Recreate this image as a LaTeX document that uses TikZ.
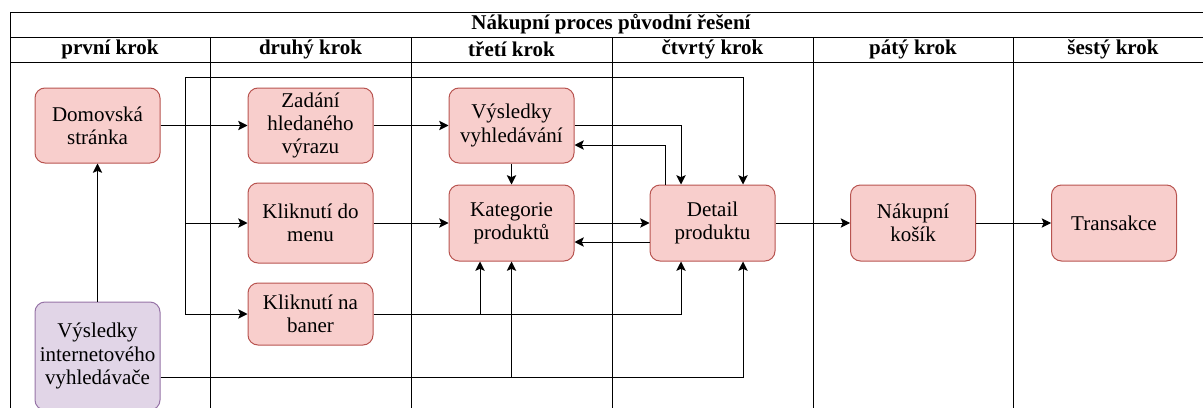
\documentclass[tikz,border=0pt]{standalone}
\usepackage{fontspec}
\setmainfont{Liberation Serif}
\usepackage{tikz}
\usetikzlibrary{calc,arrows.meta}

\definecolor{pinkfill}{HTML}{F8CECC}
\definecolor{pinkline}{HTML}{B85450}
\definecolor{lilafill}{HTML}{E1D5E7}
\definecolor{lilaline}{HTML}{9673A6}

\begin{document}
\begin{tikzpicture}[
        x = 0.75pt,
        y = -0.75pt,
        line width = 0.75pt,
        krok/.style = {draw = pinkline, fill = pinkfill, rounded corners = 7.5pt,
            minimum width = 93.75pt, minimum height = 56.25pt, align = center,
            inner sep = 0pt, font = \rmfamily\fontsize{15.75}{17.5}\selectfont},
        vstup/.style = {krok, draw = lilaline, fill = lilafill},
        hlava/.style = {font = \rmfamily\fontsize{15.75}{17.5}\selectfont\bfseries},
        sipka/.style = {-{Stealth[length = 7pt, width = 7pt, inset = 1.5pt]}}
        ]
        \clip (0, 0) rectangle (1203, 407);

        % ramec a sloupce
        \draw (10, 412) -- (10, 12) -- (1215, 12);
        \draw (10, 37) -- (1215, 37);
        \draw (10, 62) -- (1215, 62);
        \foreach \sx in {210, 411, 612, 813, 1013} {
            \draw (\sx, 37) -- (\sx, 412);
        }
        \node[hlava] (nadpis) at (611, 24.5) {Nákupní proces původní řešení};
        \node[hlava] (k1) at (110, 49.5) {první krok};
        \node[hlava] (k2) at (310.5, 49.5) {druhý krok};
        \node[hlava] (k3) at (511.5, 49.5) {třetí krok};
        \node[hlava] (k4) at (712.5, 49.5) {čtvrtý krok};
        \node[hlava] (k5) at (913, 49.5) {pátý krok};
        \node[hlava] (k6) at (1113, 49.5) {šestý krok};

        % uzly
        \node[krok] (dom) at (97.5, 125.5) {Domovská\\stránka};
        \node[vstup, minimum height = 81pt] (hledac) at (97.5, 356) {Výsledky\\internetového\\vyhledávače};
        \node[krok] (zadani) at (310.5, 125.5) {Zadání\\hledaného\\výrazu};
        \node[krok, minimum height = 60pt] (menu) at (310.5, 223) {Kliknutí do\\menu};
        \node[krok, minimum height = 46.5pt] (baner) at (310.5, 314) {Kliknutí na\\baner};
        \node[krok] (vysledky) at (511.5, 125.5) {Výsledky\\vyhledávání};
        \node[krok, minimum height = 57pt] (kategorie) at (511.5, 223) {Kategorie\\produktů};
        \node[krok, minimum height = 57pt] (detail) at (712.5, 223) {Detail\\produktu};
        \node[krok, minimum height = 57pt] (kosik) at (913, 223) {Nákupní\\košík};
        \node[krok, minimum height = 57pt] (transakce) at (1114, 223) {Transakce};

        \coordinate (rozcesti) at (185, 125.5);

        % spoje
        \draw[sipka] (hledac) -- (dom);
        \draw[sipka] (dom) -- (zadani);
        \draw[sipka] (dom.east) -| (rozcesti) |- (185, 77) -| ($(detail.north)+(30.5, 0)$);
        \draw[sipka] (rozcesti) |- (menu.west);
        \draw[sipka] (rozcesti) |- (baner.west);
        \draw[sipka] (zadani) -- (vysledky);
        \draw[sipka] (menu) -- (kategorie);
        \draw[sipka] (baner.east) -| ($(detail.south)+(-31.5, 0)$);
        \draw[sipka] (baner.east) -| ($(kategorie.south)+(-31.5, 0)$);
        \draw[sipka] ($(hledac.east)+(0, 21)$) -| ($(detail.south)+(30.5, 0)$);
        \draw[sipka] ($(hledac.east)+(0, 21)$) -| (kategorie.south);
        \draw[sipka] (vysledky) -- (kategorie);
        \draw[sipka] (vysledky.east) -| ($(detail.north)+(-31.5, 0)$);
        \draw[sipka] ($(detail.north)+(-47.5, 0)$) |- ($(vysledky.east)+(0, 19.5)$);
        \draw[sipka] (kategorie) -- (detail);
        \draw[sipka] ($(detail.west)+(0, 19)$) -- ($(kategorie.east)+(0, 19)$);
        \draw[sipka] (detail) -- (kosik);
        \draw[sipka] (kosik) -- (transakce);
    \end{tikzpicture}
\end{document}
